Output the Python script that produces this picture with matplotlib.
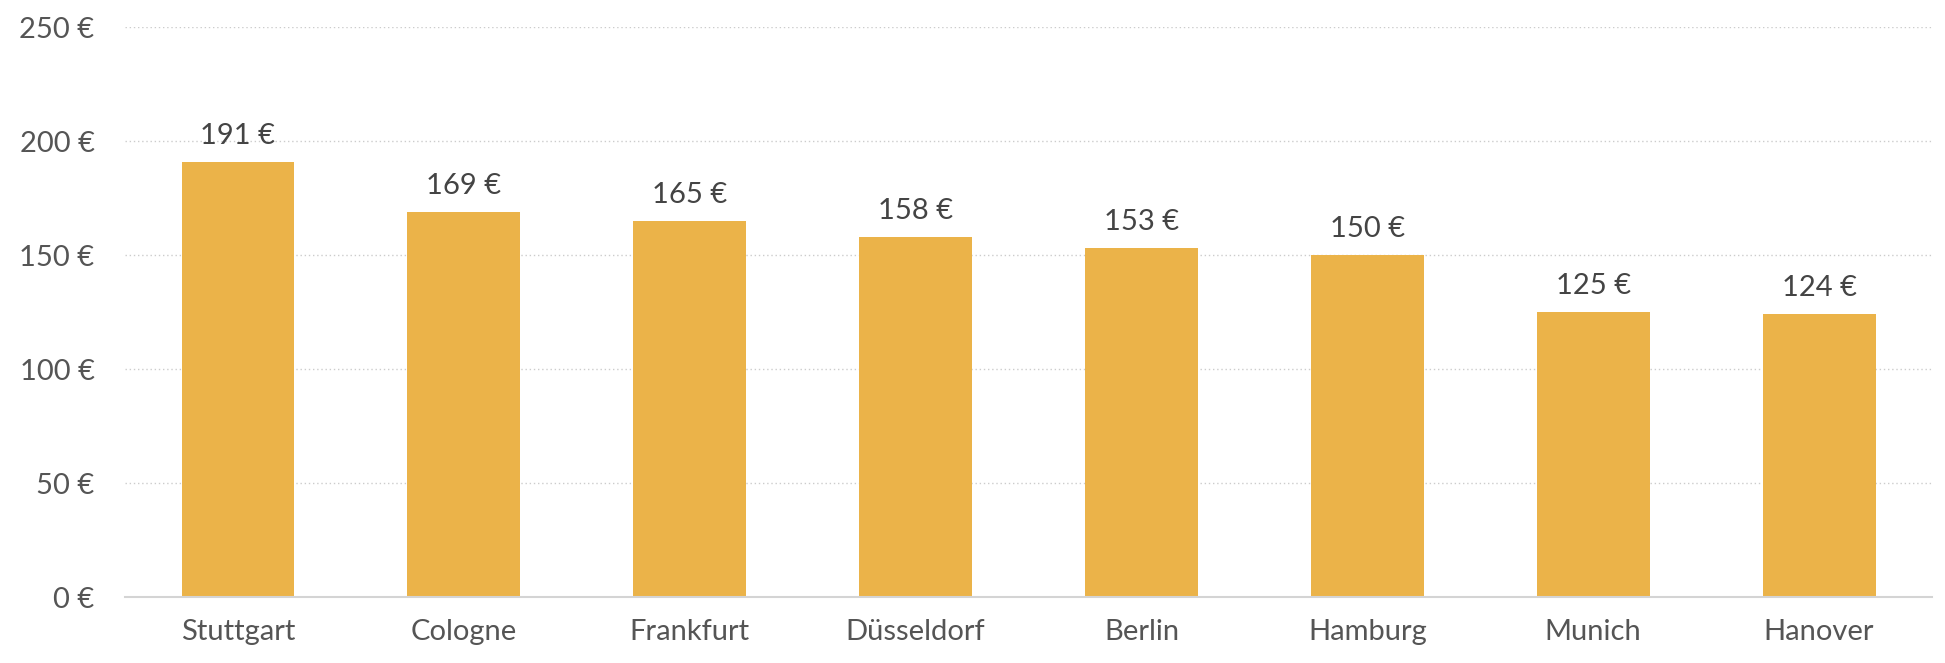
import numpy as np
import matplotlib.pyplot as plt

CITIES = ["Stuttgart", "Cologne", "Frankfurt", "Düsseldorf", "Berlin",
          "Hamburg", "Munich", "Hanover"]
PRICES = [191, 169, 165, 158, 153, 150, 125, 124]
Y_TICKS = [0, 50, 100, 150, 200, 250]

BAR_COLOR = "#EBB349"
TEXT_COLOR = "#555555"

plt.rcParams["font.family"] = ["Lato", "DejaVu Sans"]

fig = plt.figure(figsize=(19.45, 6.63), dpi=100)
ax = fig.add_axes([0.0643, 0.0995, 0.9290, 0.8595])

x = np.arange(len(CITIES))
ax.bar(x, PRICES, width=0.5, color=BAR_COLOR, zorder=3)

for xi, val in zip(x, PRICES):
    ax.annotate(f"{val} €", (xi, val), xytext=(0, 13), textcoords="offset points",
                ha="center", va="baseline", fontsize=21, color="#444444")

ax.set_xlim(-0.5, len(CITIES) - 0.5)
ax.set_ylim(0, 250)
ax.set_yticks(Y_TICKS)
ax.set_yticklabels([f"{t} €" for t in Y_TICKS])
ax.set_xticks(x)
ax.set_xticklabels(CITIES)

ax.tick_params(axis="y", length=0, pad=22, labelsize=21, labelcolor=TEXT_COLOR)
ax.tick_params(axis="x", length=0, pad=16, labelsize=21, labelcolor=TEXT_COLOR)

ax.grid(axis="y", color="#cccccc", linestyle=(0, (1, 2)), linewidth=1, zorder=0)
for side in ["top", "right", "left"]:
    ax.spines[side].set_visible(False)
ax.spines["bottom"].set_color("#d4d4d4")
ax.spines["bottom"].set_linewidth(1.5)
ax.spines["bottom"].set_zorder(4)

fig.savefig("out.png", dpi=100)
